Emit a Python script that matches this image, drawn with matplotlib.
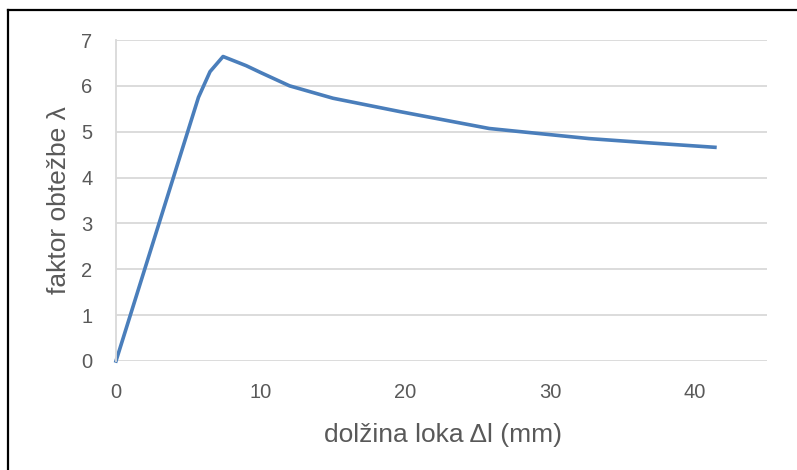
import matplotlib
matplotlib.use("Agg")
import matplotlib.pyplot as plt
from matplotlib.lines import Line2D

# values
dl = [0, 5.7, 6.5, 7.4, 9.0, 10.0, 12.0, 15.0, 19.6, 25.8, 32.7, 36.7, 41.4]
lam = [0, 5.75, 6.31, 6.64, 6.44, 6.29, 6.0, 5.73, 5.44, 5.07, 4.85, 4.76, 4.66]
xticks = [0, 10, 20, 30, 40]
yticks = [0, 1, 2, 3, 4, 5, 6, 7]

plt.rcParams['font.family'] = ['Liberation Sans', 'DejaVu Sans']

W, H = 797, 470
fig = plt.figure(figsize=(W / 100, H / 100), dpi=100)
ax = fig.add_axes([116 / W, (H - 361) / H, (767 - 116) / W, (361 - 40) / H])

ax.plot(dl, lam, color='#4a7ebb', lw=2.6, solid_joinstyle='round', clip_on=False)

ax.set_xlim(0, 45)
ax.set_ylim(0, 7)
ax.set_xticks(xticks)
ax.set_yticks(yticks)
ax.grid(axis='y', color='#d9d9d9', lw=1.3)
ax.set_axisbelow(True)
for s in ['top', 'right', 'bottom']:
    ax.spines[s].set_visible(False)
ax.spines['left'].set_color('#d9d9d9')
ax.spines['left'].set_linewidth(1.3)
ax.tick_params(length=0, colors='#595959', labelsize=14.5)
ax.tick_params(axis='y', pad=17)
ax.tick_params(axis='x', pad=16)

ax.set_ylabel('faktor obtežbe λ', fontsize=19, color='#595959', va='center')
ax.yaxis.set_label_coords(-0.088, 0.5)
ax.set_xlabel('dolžina loka Δl (mm)', fontsize=19, color='#595959', va='center')
ax.xaxis.set_label_coords(0.502, -0.23)

# outer frame (only left and top edge visible)
fig.add_artist(Line2D([8 / W, 8 / W], [0, 1 - 10 / H], color='black', lw=1.6,
                      transform=fig.transFigure))
fig.add_artist(Line2D([8 / W, 1], [1 - 10 / H, 1 - 10 / H], color='black', lw=1.6,
                      transform=fig.transFigure))

fig.savefig('out.png', dpi=100)
